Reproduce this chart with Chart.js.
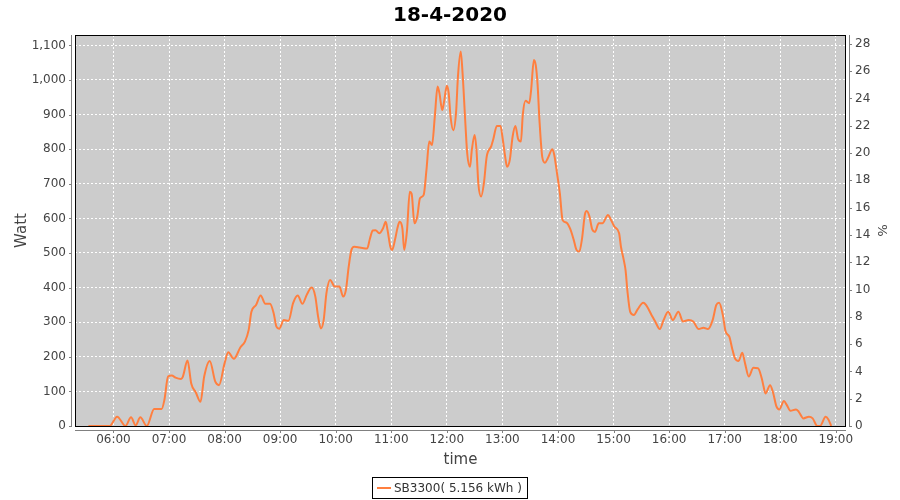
<!DOCTYPE html>
<html>
<head>
<meta charset="utf-8">
<script src="https://cdn.jsdelivr.net/npm/chart.js@4.4.1/dist/chart.umd.min.js"></script>
<style>
html,body{margin:0;padding:0;background:#fff;}
#wrap{width:900px;height:500px;}
</style>
</head>
<body>
<div id="wrap"><canvas id="c" width="900" height="500"></canvas></div>
<script>
// ---- data ----
const chartTitle = '18-4-2020';
const seriesLabel = 'SB3300( 5.156 kWh )';
const xTickLabels = ['06:00','07:00','08:00','09:00','10:00','11:00','12:00','13:00','14:00','15:00','16:00','17:00','18:00','19:00'];
const times = [
'05:33','05:56','06:04','06:13','06:19','06:24','06:29','06:36','06:44','06:52','06:55','06:59',
'07:03','07:07','07:13','07:15','07:20','07:24','07:29','07:34','07:38','07:44','07:50','07:54',
'08:00','08:04','08:10','08:17','08:22','08:26','08:29','08:34','08:39','08:44','08:49','08:53','08:56','08:59',
'09:04','09:09','09:14','09:19','09:24','09:29','09:34','09:38','09:41','09:44','09:47','09:50','09:54','09:59',
'10:04','10:08','10:11','10:14','10:17','10:20','10:26','10:34','10:37','10:40','10:43','10:47','10:51','10:54','10:56','10:59',
'11:01','11:04','11:07','11:09','11:12','11:14','11:17','11:20','11:22','11:25','11:28','11:31','11:35','11:38','11:41','11:44','11:47','11:50','11:52','11:55','11:57',
'12:00','12:02','12:04','12:07','12:10','12:12','12:15','12:17','12:20','12:22','12:25','12:27','12:30','12:32','12:34','12:37','12:40','12:43','12:48','12:50','12:54','12:58',
'13:00','13:03','13:05','13:08','13:11','13:14','13:17','13:20','13:22','13:25','13:29','13:31','13:34','13:36','13:38','13:40','13:43','13:46','13:49','13:54','13:56','13:59',
'14:02','14:05','14:09','14:13','14:17','14:20','14:23','14:26','14:29','14:31','14:34','14:37','14:40','14:44','14:48','14:54','14:57',
'15:01','15:06','15:08','15:11','15:13','15:15','15:18','15:22','15:26','15:32','15:35','15:41','15:45','15:50','15:54','15:59',
'16:04','16:10','16:15','16:21','16:26','16:32','16:37','16:42','16:47','16:51','16:54','16:58',
'17:01','17:05','17:08','17:11','17:15','17:19','17:22','17:26','17:31','17:36','17:40','17:42','17:44','17:49','17:52','17:56','17:59',
'18:04','18:07','18:11','18:17','18:20','18:25','18:31','18:35','18:40','18:43','18:49','18:52','18:55'
];
const watts = [
0,0,27,0,25,2,25,0,49,49,75,143,
146,140,136,143,189,123,97,70,143,188,128,118,
181,213,194,227,244,277,330,350,377,353,353,326,287,281,
306,304,355,377,353,381,400,374,316,282,306,384,422,403,
403,374,393,460,509,518,516,513,542,565,566,557,571,590,566,518,
509,538,576,590,571,509,566,677,671,586,605,658,668,740,822,812,894,981,962,913,937,
983,962,894,855,908,1010,1082,1019,875,788,749,798,841,798,701,663,701,778,809,827,867,867,
836,778,749,769,836,867,829,822,899,940,933,971,1058,1043,986,884,778,761,774,800,783,730,
673,595,588,571,538,509,504,542,610,621,605,568,561,586,586,610,597,
576,557,518,480,450,390,330,321,337,356,350,321,302,280,306,330,
306,330,302,306,302,280,284,280,306,350,356,321,
273,258,225,196,188,212,181,143,168,167,138,114,94,118,99,56,48,
72,61,44,48,41,22,27,22,0,0,27,19,0
];

// ---- helpers ----
const toMin = s => { const [h,m] = s.split(':').map(Number); return h*60+m; };
const fmtMin = v => { const h = Math.floor(v/60), m = Math.round(v - h*60); return String(h).padStart(2,'0')+':'+String(m).padStart(2,'0'); };
const points = times.map((t,i) => ({x: toMin(t), y: watts[i]}));

const FONT = '"DejaVu Sans", "Liberation Sans", sans-serif';
const LINE_COLOR = '#ff7f3f';
const TXT = '#444444';

const plotBg = {
  id: 'plotBg',
  beforeDraw(chart) {
    const {ctx, chartArea: a} = chart;
    ctx.save();
    ctx.fillStyle = '#cccccc';
    ctx.fillRect(a.left, a.top, a.right - a.left, a.bottom - a.top);
    ctx.restore();
  }
};

const jfAxes = {
  id: 'jfAxes',
  afterDraw(chart) {
    const {ctx, chartArea: a, scales} = chart;
    const L = Math.round(a.left), R = Math.round(a.right), T = Math.round(a.top), B = Math.round(a.bottom);
    ctx.save();
    // plot border
    ctx.strokeStyle = '#000';
    ctx.lineWidth = 1;
    ctx.strokeRect(L + 0.5, T + 0.5, R - L - 1, B - T);
    // offset axis lines
    ctx.strokeStyle = '#808080';
    ctx.beginPath();
    ctx.moveTo(L - 3.5, T); ctx.lineTo(L - 3.5, B + 1);
    ctx.moveTo(R + 3.5, T); ctx.lineTo(R + 3.5, B + 1);
    ctx.moveTo(L, B + 4.5); ctx.lineTo(R, B + 4.5);
    scales.y.ticks.forEach(t => {
      const y = Math.round(scales.y.getPixelForValue(t.value)) + 0.5;
      ctx.moveTo(L - 6, y); ctx.lineTo(L - 3.5, y);
    });
    scales.y1.ticks.forEach(t => {
      const y = Math.round(scales.y1.getPixelForValue(t.value)) + 0.5;
      ctx.moveTo(R + 3.5, y); ctx.lineTo(R + 6, y);
    });
    scales.x.ticks.forEach(t => {
      const x = Math.round(scales.x.getPixelForValue(t.value)) + 0.5;
      ctx.moveTo(x, B + 4.5); ctx.lineTo(x, B + 7);
    });
    ctx.stroke();

    // legend box
    ctx.font = '12px ' + FONT;
    const w = ctx.measureText(seriesLabel).width;
    const boxW = Math.round(w + 27), boxH = 21;
    const bx = Math.round(449 - boxW / 2), by = 477;
    ctx.strokeStyle = '#000';
    ctx.strokeRect(bx + 0.5, by + 0.5, boxW, boxH);
    ctx.strokeStyle = LINE_COLOR;
    ctx.lineWidth = 2;
    ctx.beginPath();
    ctx.moveTo(bx + 5, by + 11); ctx.lineTo(bx + 19, by + 11);
    ctx.stroke();
    ctx.fillStyle = '#333';
    ctx.textBaseline = 'middle';
    ctx.textAlign = 'left';
    ctx.fillText(seriesLabel, bx + 22, by + 11.5);
    ctx.restore();
  }
};

new Chart(document.getElementById('c'), {
  type: 'line',
  data: {
    datasets: [{
      label: seriesLabel,
      data: points,
      borderColor: LINE_COLOR,
      backgroundColor: LINE_COLOR,
      borderWidth: 2,
      pointRadius: 0,
      cubicInterpolationMode: 'monotone',
      fill: false,
      yAxisID: 'y'
    }]
  },
  options: {
    responsive: false,
    animation: false,
    events: [],
    layout: { padding: { top: 0, left: 0, right: 0, bottom: 24 } },
    plugins: {
      legend: { display: false },
      tooltip: { enabled: false },
      title: {
        display: true,
        text: chartTitle,
        color: '#000',
        font: { family: FONT, size: 20, weight: 'bold' },
        padding: { top: 4, bottom: 7 }
      }
    },
    scales: {
      x: {
        type: 'linear',
        min: 318.5,
        max: 1151,
        afterBuildTicks: s => { s.ticks = xTickLabels.map(l => ({ value: toMin(l) })); },
        afterFit: s => { s.height = 50; },
        ticks: {
          callback: v => fmtMin(v),
          font: { family: FONT, size: 12 },
          color: TXT,
          padding: 7,
          maxRotation: 0,
          autoSkip: false
        },
        grid: { color: '#ffffff', lineWidth: 1, drawTicks: false },
        border: { display: false, dash: [2, 2] },
        title: {
          display: true, text: 'time', color: TXT,
          font: { family: FONT, size: 15 },
          padding: { top: 0, bottom: 7 }
        }
      },
      y: {
        position: 'left',
        min: 0,
        max: 1130,
        afterFit: s => { s.width = 75; },
        ticks: {
          stepSize: 100,
          includeBounds: false,
          callback: v => v.toLocaleString('en-US'),
          font: { family: FONT, size: 12 },
          color: TXT,
          padding: 9
        },
        grid: { color: '#ffffff', lineWidth: 1, drawTicks: false },
        border: { display: false, dash: [2, 2] },
        title: {
          display: true, text: 'Watt', color: TXT,
          font: { family: FONT, size: 15 },
          padding: { top: 13, bottom: 0 }
        }
      },
      y1: {
        position: 'right',
        min: 0,
        max: 28.65,
        afterFit: s => { s.width = 54; },
        ticks: {
          stepSize: 2,
          includeBounds: false,
          font: { family: FONT, size: 12 },
          color: TXT,
          padding: 9
        },
        grid: { display: false, drawTicks: false },
        border: { display: false },
        title: {
          display: true, text: '%', color: TXT,
          font: { family: FONT, size: 13 },
          padding: { top: 11, bottom: 0 }
        }
      }
    }
  },
  plugins: [plotBg, jfAxes]
});
</script>
</body>
</html>
